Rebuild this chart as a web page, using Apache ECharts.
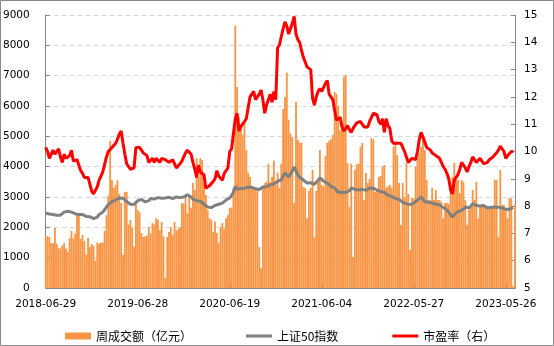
<!DOCTYPE html>
<html>
<head>
<meta charset="utf-8">
<script src="https://cdn.jsdelivr.net/npm/echarts@6/dist/echarts.min.js"></script>
<style>html,body{margin:0;padding:0;background:#fff;}#chart{width:554px;height:346px;}</style>
</head>
<body>
<div id="chart"></div>
<script>
// ---- data ----
const START_DATE = '2018-06-29';
const SKIPPED_WEEKS = ['2018-10-05','2019-02-08','2020-01-31','2022-02-04','2022-10-07','2023-01-27'];
const tickLabels = ['2018-06-29','2019-06-28','2020-06-19','2021-06-04','2022-05-27','2023-05-26'];
const seriesNames = ['周成交额（亿元）','上证50指数','市盈率（右）'];

const turnover = [
1720,1700,1680,1480,1470,1980,1460,1330,1300,1400,
1480,1300,1200,1640,1880,1640,1800,2450,2450,1620,
1750,1550,1100,1650,1350,1450,1400,900,1500,1450,
1500,1500,1880,2400,3050,4850,3550,3300,3400,3550,
3100,2800,1100,3170,3170,2100,2240,2000,1360,2800,
2570,2500,1810,1680,1700,1720,2010,1800,2140,2100,
2300,2250,1910,2180,1700,330,1680,1850,2010,1750,
2180,1900,1950,2000,2800,2780,3000,2470,3000,2650,
3460,3230,4280,3660,4280,4220,3460,3070,2570,2300,
2250,1850,2180,1810,1480,2010,2140,1950,2300,2400,
2640,2650,3300,8650,6630,5640,5400,5050,5500,4550,
3800,3660,3330,3250,3230,3200,1350,650,3300,3460,
3500,4100,3500,3660,4200,3400,3800,3300,4100,5900,
6300,7100,5550,5100,4980,2800,6130,4880,4800,4780,
3330,3300,2300,3200,3300,3890,1680,3200,3500,4550,
3400,3350,4350,4780,4850,4900,5050,6460,6400,6000,
5200,5400,6960,7020,4120,2670,4100,1020,3900,4080,
4100,4650,4780,2900,3790,3460,3600,4950,4900,3170,
3200,3660,3700,4000,4050,3300,3350,3400,3300,4650,
4820,4380,3460,2080,3460,3000,4120,3100,1250,2970,
2950,4000,4280,4450,4650,4880,4550,3560,2900,2900,
3300,2900,3230,2900,2900,2840,2300,2800,2800,2780,
3400,3660,4120,3560,3560,3130,3560,3500,2900,2080,
2570,2700,3230,2900,3500,2300,2740,2750,2700,2700,
2700,2700,2700,2700,3560,3560,1680,3890,2740,2740,
2600,2300,2970,2950,60,2750
];

const sse50 = [
2470,2480,2440,2400,2420,2450,2400,2420,2400,2450,
2500,2480,2530,2570,2500,2470,2450,2470,2420,2400,
2420,2380,2360,2340,2350,2300,2290,2320,2340,2420,
2470,2500,2580,2670,2750,2800,2850,2860,2900,2950,
2970,3000,2960,2900,2850,2840,2760,2740,2750,2800,
2880,2900,2920,2880,2840,2860,2880,2950,2970,2930,
2950,2980,2940,2960,2950,2970,3000,2990,2960,2950,
2980,3000,2990,2980,2970,3000,3040,3070,3050,3000,
2930,2900,2880,2920,2860,2840,2760,2720,2670,2680,
2650,2700,2720,2740,2760,2780,2800,2820,2900,2950,
2970,3050,3160,3350,3250,3200,3280,3300,3290,3310,
3330,3300,3320,3330,3270,3230,3250,3280,3330,3300,
3340,3380,3400,3410,3430,3460,3520,3550,3560,3700,
3790,3750,3660,3700,3850,3990,3850,3730,3650,3600,
3560,3500,3460,3520,3470,3500,3420,3400,3550,3630,
3600,3520,3480,3460,3420,3350,3330,3300,3250,3150,
3130,3160,3170,3150,3130,3200,3300,3270,3250,3230,
3230,3220,3250,3230,3220,3250,3300,3330,3290,3250,
3230,3200,3180,3130,3150,3100,3060,3000,3020,2980,
2950,2900,2920,2880,2820,2800,2780,2740,2750,2780,
2800,2850,2900,2950,3000,2960,2840,2860,2830,2800,
2800,2780,2760,2740,2740,2720,2650,2620,2570,2500,
2420,2340,2400,2480,2500,2540,2570,2600,2670,2640,
2640,2700,2780,2800,2720,2670,2700,2740,2720,2680,
2640,2650,2660,2670,2670,2670,2660,2650,2640,2640,
2600,2570,2600,2640,2650,null
];

const peRatio = [
10.15,10.0,9.75,9.9,10.05,9.9,9.95,10.1,9.8,9.6,
9.9,9.75,9.7,9.85,10.05,9.65,9.6,9.7,9.5,9.3,
9.2,9.05,9.0,9.05,9.05,8.55,8.45,8.5,8.7,8.95,
9.1,9.25,9.3,9.8,10.0,10.05,10.15,10.2,10.3,10.45,
10.65,10.75,10.3,9.9,9.55,9.45,9.35,9.35,9.4,10.15,
10.2,10.15,10.2,9.95,10.0,9.85,9.6,9.65,9.75,9.6,
9.75,9.8,9.6,9.75,9.8,9.7,9.65,9.6,9.65,9.7,
9.55,9.4,9.45,9.55,9.65,9.8,9.95,10.05,10.0,9.9,
9.6,9.35,9.05,9.5,9.25,9.3,9.15,8.65,8.6,8.75,
8.8,8.9,9.0,9.3,9.1,9.05,8.95,9.2,9.3,9.4,
10.0,10.1,10.15,11.2,11.4,10.75,10.9,11.0,11.1,11.2,
11.6,12.0,12.05,12.2,11.9,11.85,12.1,12.25,11.9,11.4,
11.7,11.65,12.1,11.8,12.2,11.9,13.8,13.9,13.85,14.5,
14.75,14.6,14.3,14.25,14.7,14.95,14.3,14.1,14.0,13.7,
13.45,13.4,13.1,13.05,13.0,11.95,11.7,12.0,12.2,12.3,
12.2,12.35,12.5,12.6,12.1,12.0,11.9,11.5,11.15,11.2,
11.25,10.9,10.75,10.75,10.95,10.8,10.7,10.85,10.95,11.05,
11.1,11.1,11.0,10.9,10.85,10.9,11.1,11.25,11.4,11.45,
11.35,11.1,11.0,11.2,10.7,11.2,10.95,10.85,10.4,10.3,
10.25,10.3,10.3,10.3,10.15,10.0,9.8,9.6,9.6,9.75,
9.75,9.7,10.0,10.45,10.7,10.75,10.35,10.15,10.15,10.05,
9.95,9.9,9.85,9.85,9.75,9.6,9.45,9.35,9.2,9.0,
8.6,8.45,8.95,9.05,9.15,9.35,9.6,9.55,9.4,9.25,
9.45,9.6,9.8,9.85,9.6,9.65,9.75,9.75,9.55,9.6,
9.6,9.7,9.75,9.8,9.85,9.95,10.05,10.2,10.1,10.0,
9.75,9.85,9.9,10.0,10.0,null
];

// weekly (Friday) dates, skipping holiday-closed weeks
function buildWeeks(start, count, skipped) {
  const out = [];
  const d = new Date(start + 'T00:00:00Z');
  while (out.length < count) {
    const s = d.toISOString().slice(0, 10);
    if (skipped.indexOf(s) < 0) out.push(s);
    d.setUTCDate(d.getUTCDate() + 7);
  }
  return out;
}
const categories = buildWeeks(START_DATE, turnover.length, SKIPPED_WEEKS);

const showTick = function (idx, val) { return tickLabels.indexOf(val) >= 0; };
const axisColor = '#868686';
const numFont = 'DejaVu Sans';
const lineIcon = 'path://M0,0H26V3H0Z';

const chart = echarts.init(document.getElementById('chart'), null, { renderer: 'canvas' });
chart.setOption({
  animation: false,
  backgroundColor: '#ffffff',
  graphic: [{
    type: 'rect', silent: true, z: 100,
    shape: { x: 0.5, y: 0.5, width: 553, height: 345 },
    style: { fill: 'none', stroke: '#898989', lineWidth: 1 }
  }],
  grid: { left: 44, right: 39, top: 15, bottom: 58 },
  legend: {
    left: 60, top: 325, itemGap: 54, itemWidth: 26, itemHeight: 7,
    symbolKeepAspect: true,
    textStyle: { fontFamily: '"Noto Sans CJK SC"', fontSize: 12, color: '#000' },
    data: [
      { name: seriesNames[0], icon: 'rect' },
      { name: seriesNames[1], icon: lineIcon, itemStyle: { color: '#808080' } },
      { name: seriesNames[2], icon: lineIcon, itemStyle: { color: '#FF0000' } }
    ]
  },
  xAxis: {
    type: 'category', data: categories, boundaryGap: false,
    axisLine: { lineStyle: { color: axisColor, width: 1 } },
    axisTick: { show: true, inside: true, length: 5, interval: showTick, lineStyle: { color: axisColor } },
    axisLabel: { interval: showTick, fontSize: 10.5, color: '#000', fontFamily: numFont, margin: 11 },
    splitLine: { show: false }
  },
  yAxis: [{
    type: 'value', min: 0, max: 9000, interval: 1000,
    axisLine: { show: true, lineStyle: { color: axisColor } },
    axisTick: { show: true, inside: true, length: 4, lineStyle: { color: axisColor } },
    axisLabel: { fontSize: 10.5, color: '#000', fontFamily: numFont, margin: 16,
      formatter: function (v) { return String(v); } },
    splitLine: { show: true, lineStyle: { color: '#D9D9D9', type: [5, 3], width: 1 } }
  }, {
    type: 'value', min: 5, max: 15, interval: 1, position: 'right',
    axisLine: { show: true, lineStyle: { color: axisColor } },
    axisTick: { show: true, inside: true, length: 4, lineStyle: { color: axisColor } },
    axisLabel: { fontSize: 10.5, color: '#000', fontFamily: numFont, margin: 9,
      formatter: function (v) { return String(v); } },
    splitLine: { show: false }
  }],
  series: [{
    name: seriesNames[0], type: 'bar', data: turnover, yAxisIndex: 0,
    barWidth: '100%', itemStyle: { color: '#F79646' }, clip: true
  }, {
    name: seriesNames[1], type: 'line', data: sse50, yAxisIndex: 0,
    symbol: 'none', showSymbol: false, lineStyle: { color: '#808080', width: 3 },
    itemStyle: { color: '#808080' }
  }, {
    name: seriesNames[2], type: 'line', data: peRatio, yAxisIndex: 1,
    symbol: 'none', showSymbol: false, lineStyle: { color: '#FF0000', width: 3 },
    itemStyle: { color: '#FF0000' }
  }]
});
</script>
</body>
</html>
